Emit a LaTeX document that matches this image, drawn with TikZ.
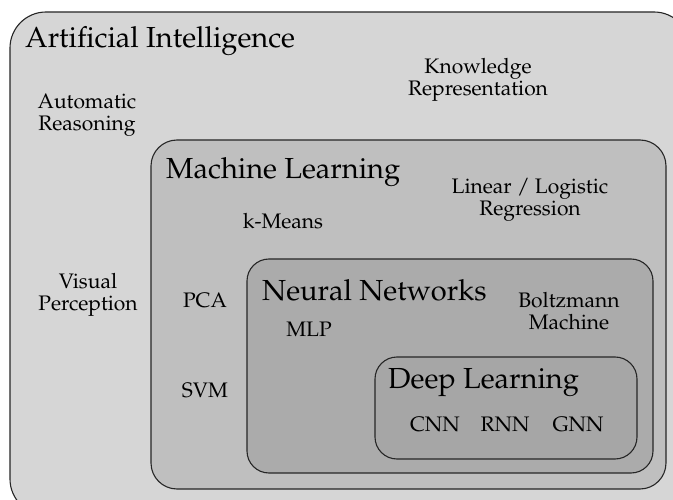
\documentclass[tikz,border=0pt]{standalone}
\usepackage[T1]{fontenc}
\usepackage{mathpazo}
\begin{document}
\begin{tikzpicture}[x=1pt,y=-1pt,
  region/.style={draw=black!85,line width=1.1pt},
  title/.style={anchor=west,inner sep=0pt,font=\fontsize{29}{31}\selectfont},
  item/.style={align=center,inner sep=0pt,font=\fontsize{21}{22}\selectfont}]
\useasboundingbox (0,0) rectangle (673,500);
\begin{scope}
\clip (0,0) rectangle (673,500);
% nested regions
\draw[region,fill=black!16,rounded corners=36pt] (10,12) rectangle (690,515);
\draw[region,fill=black!25,rounded corners=26pt] (151,140) rectangle (666,489);
\draw[region,fill=black!33,rounded corners=22pt] (247,259) rectangle (653,473);
\draw[region,fill=black!35,rounded corners=22pt] (375,357) rectangle (637,459);
\end{scope}
% region titles
\node[title] (ai) at (25,41) {Artificial Intelligence};
\node[title] (ml) at (166,172) {Machine Learning};
\node[title] (nn) at (262,290) {Neural Networks};
\node[title] (dl) at (388,383) {Deep Learning};
% topics
\node[item] (ar) at (87,115) {Automatic\\Reasoning};
\node[item] (kr) at (478,80) {Knowledge\\Representation};
\node[item] (vp) at (88,295) {Visual\\Perception};
\node[item] (km) at (283,221) {k-Means};
\node[item] (lr) at (530,200) {Linear / Logistic\\Regression};
\node[item] (pca) at (205,300) {PCA};
\node[item] (svm) at (205,390) {SVM};
\node[item] (mlp) at (309,329) {MLP};
\node[item] (bm) at (569,311) {Boltzmann\\Machine};
\node[item] (cnn) at (435,424) {CNN};
\node[item] (rnn) at (505,424) {RNN};
\node[item] (gnn) at (578,424) {GNN};
\end{tikzpicture}
\end{document}
